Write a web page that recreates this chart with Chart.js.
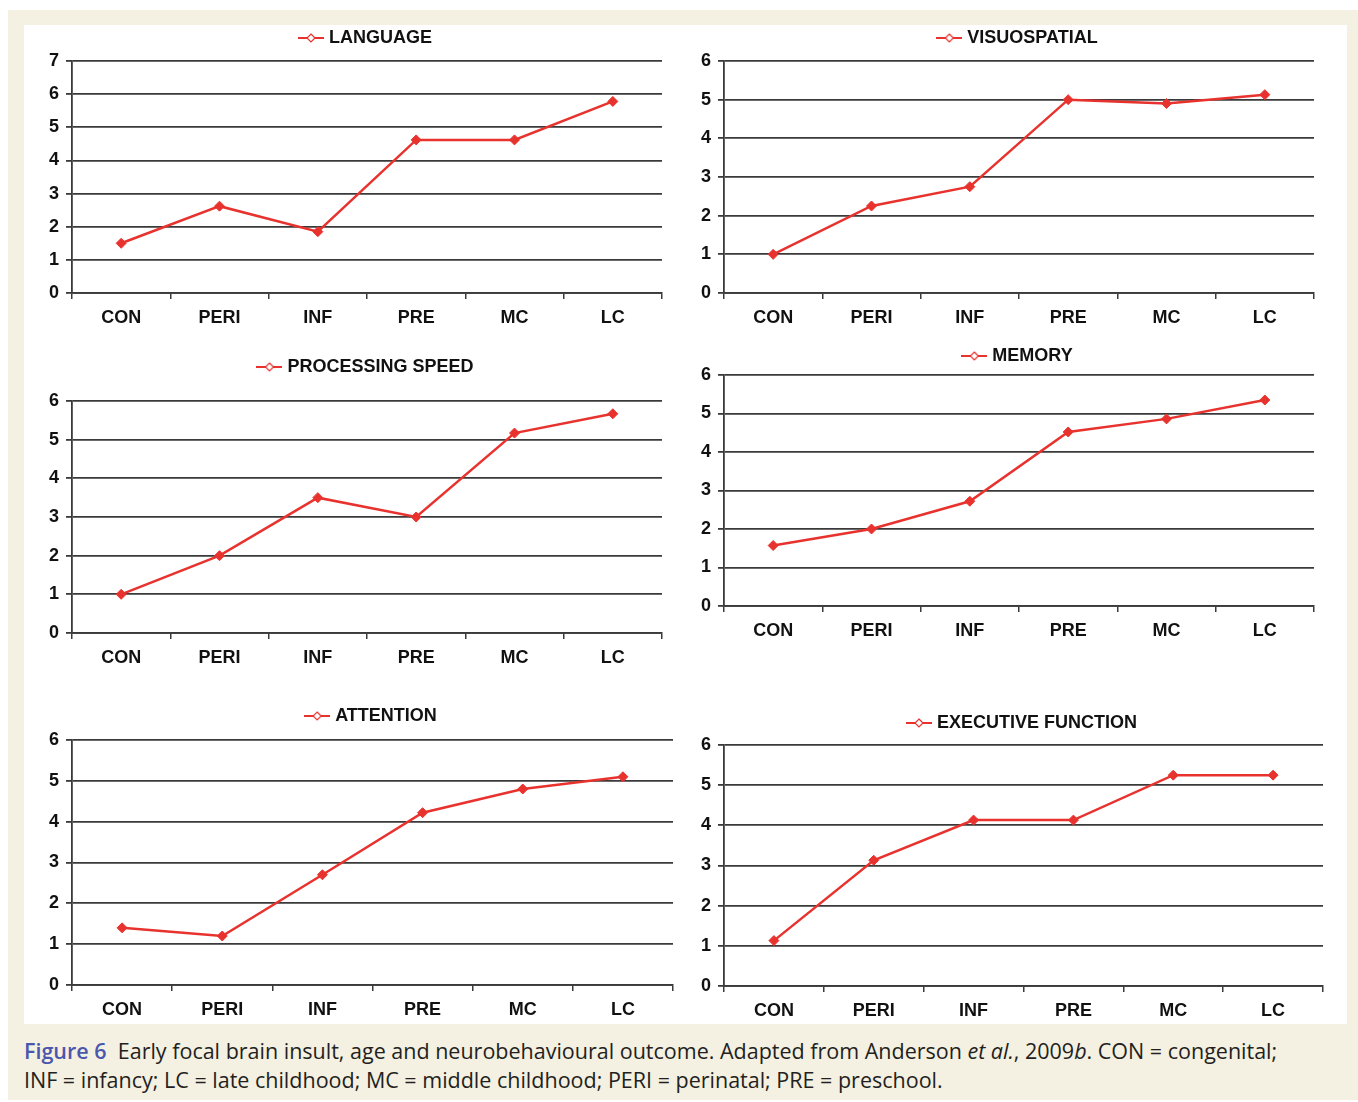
<!DOCTYPE html>
<html>
<head>
<meta charset="utf-8">
<script src="https://cdn.jsdelivr.net/npm/chart.js@4.4.0/dist/chart.umd.min.js"></script>
<style>
  html, body { margin: 0; padding: 0; background: #fff; }
  body { width: 1358px; height: 1102px; position: relative; overflow: hidden; }
  #frame { position: absolute; left: 8px; top: 10px; width: 1350px; height: 1090px; background: #f4f0e2; }
  #panel { position: absolute; left: 24px; top: 25px; width: 1323px; height: 999px; background: #fff; }
  .box { position: absolute; }
  #caption { position: absolute; left: 24px; top: 1036px; width: 1330px; font-family: "Open Sans", Lato, sans-serif;
             font-size: 21.5px; line-height: 29px; color: #231f20; white-space: nowrap; }
  #caption b { color: #4b56ad; font-weight: 600; }
</style>
</head>
<body>
<div id="frame"></div>
<div id="panel"></div>
<div class="box" id="b0"><canvas id="c0"></canvas></div>
<div class="box" id="b1"><canvas id="c1"></canvas></div>
<div class="box" id="b2"><canvas id="c2"></canvas></div>
<div class="box" id="b3"><canvas id="c3"></canvas></div>
<div class="box" id="b4"><canvas id="c4"></canvas></div>
<div class="box" id="b5"><canvas id="c5"></canvas></div>
<div id="caption"><b>Figure 6</b>&nbsp; Early focal brain insult, age and neurobehavioural outcome. Adapted from Anderson <i>et al.</i>, 2009<i>b</i>. CON = congenital;<br>INF = infancy; LC = late childhood; MC = middle childhood; PERI = perinatal; PRE = preschool.</div>

<script>
// age at insult groups
const categories = ['CON', 'PERI', 'INF', 'PRE', 'MC', 'LC'];

// one series per panel
const language        = [1.5, 2.62, 1.85, 4.62, 4.62, 5.78];
const visuospatial    = [1.0, 2.25, 2.75, 5.0, 4.9, 5.13];
const processingSpeed = [1.0, 2.0, 3.5, 3.0, 5.17, 5.67];
const memory          = [1.57, 2.0, 2.72, 4.52, 4.86, 5.35];
const attention       = [1.4, 1.2, 2.7, 4.22, 4.8, 5.1];
const executive       = [1.13, 3.13, 4.13, 4.13, 5.25, 5.25];

const panelTitles = ['LANGUAGE', 'VISUOSPATIAL', 'PROCESSING SPEED', 'MEMORY', 'ATTENTION', 'EXECUTIVE FUNCTION'];
const panelSeries = [language, visuospatial, processingSpeed, memory, attention, executive];
const yMax = [7, 6, 6, 6, 6, 6];

// plot area boxes (left, top, right, bottom) and legend text centre
const areas = [
    { l: 72,  t: 61,  r: 662,  b: 293, legendY: 36 },
    { l: 724, t: 61,  r: 1314, b: 293, legendY: 36 },
    { l: 72,  t: 401, r: 662,  b: 633, legendY: 365 },
    { l: 724, t: 375, r: 1314, b: 606, legendY: 357 },
    { l: 72,  t: 740, r: 673,  b: 985, legendY: 714 },
    { l: 724, t: 745, r: 1323, b: 986, legendY: 721 }
];

const RED = '#e8322e';
const GRID = '#3a3a3a';
const AXIS_W = 40;      // y axis width
const XAXIS_H = 40;     // x axis height
const LEG_PAD = 6;      // legend label padding
const FONT = "'Liberation Sans', Arial, sans-serif";

// legend marker: short line with an open diamond
const marker = document.createElement('canvas');
marker.width = 26; marker.height = 12;
(function() {
    const m = marker.getContext('2d');
    m.strokeStyle = RED; m.lineWidth = 2;
    m.beginPath(); m.moveTo(0, 6); m.lineTo(26, 6); m.stroke();
    m.fillStyle = '#fff'; m.lineWidth = 1.2;
    m.beginPath(); m.moveTo(13, 2); m.lineTo(17, 6); m.lineTo(13, 10); m.lineTo(9, 6); m.closePath();
    m.fill(); m.stroke();
})();

panelSeries.forEach(function(series, i) {
    const a = areas[i];
    // legend text centre lands LEG_PAD + 7 below canvas top, plot starts 21 + spacer below that
    let spacer = (a.t - a.legendY) - 21;
    let top = a.legendY - (LEG_PAD + 7);
    if (spacer < 0) { spacer = 0; top = a.t - 21 - (LEG_PAD + 7); }
    const left = a.l - AXIS_W;
    const width = (a.r - a.l) + AXIS_W + 6;
    const height = a.b + XAXIS_H + 4 - top;

    const box = document.getElementById('b' + i);
    box.style.left = left + 'px';
    box.style.top = top + 'px';
    box.style.width = width + 'px';
    box.style.height = height + 'px';

    new Chart(document.getElementById('c' + i).getContext('2d'), {
        type: 'line',
        data: {
            labels: categories,
            datasets: [{
                label: panelTitles[i],
                data: series,
                borderColor: RED,
                backgroundColor: RED,
                borderWidth: 2.5,
                pointStyle: 'rectRot',
                pointRadius: 5,
                pointBackgroundColor: RED,
                pointBorderColor: RED,
                pointBorderWidth: 1,
                tension: 0
            }]
        },
        options: {
            responsive: true,
            maintainAspectRatio: false,
            animation: false,
            events: [],
            layout: { padding: { top: 0, left: 0, right: 6, bottom: 4 } },
            plugins: {
                legend: {
                    display: true,
                    position: 'top',
                    fullSize: false,
                    labels: {
                        usePointStyle: true,
                        pointStyle: marker,
                        padding: LEG_PAD,
                        color: '#111',
                        font: { family: FONT, size: 18, weight: 'bold' }
                    }
                },
                // empty title used only as a gap between legend and plot
                title: {
                    display: spacer > 0,
                    text: '',
                    weight: 500,
                    fullSize: false,
                    font: { size: 1, lineHeight: 1 },
                    padding: { top: Math.max(0, spacer - 1), bottom: 0 }
                },
                tooltip: { enabled: false }
            },
            scales: {
                x: {
                    offset: true,
                    grid: {
                        offset: true,
                        drawOnChartArea: false,
                        drawTicks: true,
                        tickLength: 6,
                        color: GRID,
                        lineWidth: 1.5
                    },
                    border: { display: true, color: GRID, width: 1.8 },
                    ticks: {
                        color: '#111',
                        padding: 8,
                        font: { family: FONT, size: 18, weight: 'bold' }
                    },
                    afterFit: function(scale) { scale.height = XAXIS_H; }
                },
                y: {
                    min: 0,
                    max: yMax[i],
                    grid: {
                        color: GRID,
                        lineWidth: 1.8,
                        drawTicks: true,
                        tickLength: 6
                    },
                    border: { display: true, color: GRID, width: 1.8 },
                    ticks: {
                        stepSize: 1,
                        color: '#111',
                        padding: 7,
                        font: { family: FONT, size: 18, weight: 'bold' }
                    },
                    afterFit: function(scale) { scale.width = AXIS_W; }
                }
            }
        }
    });
});
</script>
</body>
</html>
